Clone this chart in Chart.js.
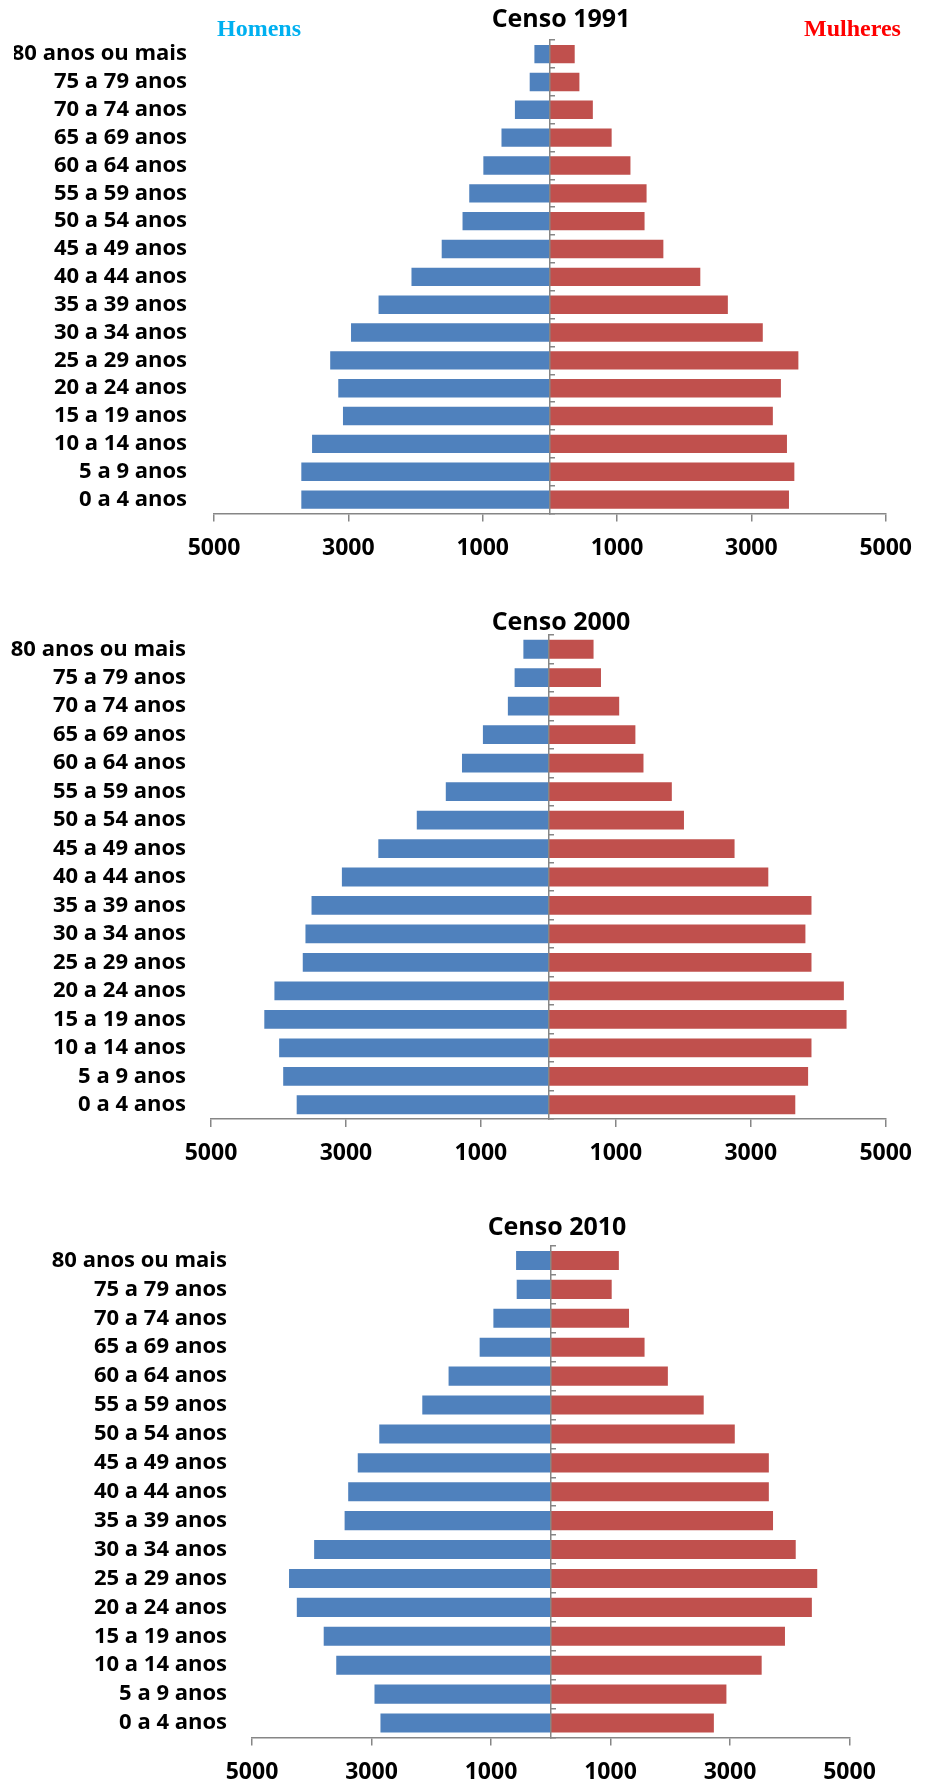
<!DOCTYPE html>
<html lang="pt-BR">
<head>
<meta charset="utf-8">
<title>Pirâmides etárias — Censos 1991, 2000 e 2010</title>
<script src="https://cdn.jsdelivr.net/npm/chart.js@4.4.1/dist/chart.umd.min.js"></script>
<style>
  html, body { margin: 0; padding: 0; background: #fff; }
  #page { position: relative; width: 925px; height: 1783px; overflow: hidden; }
  canvas { position: absolute; left: 0; }
  .title { position: absolute; transform: translate(-50%, -50%); font: bold 25px "Open Sans", sans-serif; color: #000; white-space: nowrap; }
  .sex { position: absolute; transform: translateY(-50%); font: bold 24px "Liberation Serif", serif; white-space: nowrap; }
</style>
</head>
<body>
<div id="page">
  <canvas id="c1991" width="925" height="580" style="top:0px"></canvas>
  <canvas id="c2000" width="925" height="590" style="top:590px"></canvas>
  <canvas id="c2010" width="925" height="583" style="top:1200px"></canvas>

  <div class="title" style="left:561px; top:17px">Censo 1991</div>
  <div class="sex" style="left:217px; top:28px; color:#00B0F0">Homens</div>
  <div class="sex" style="left:804px; top:28px; color:#FF0000">Mulheres</div>
  <div class="title" style="left:561px; top:620px">Censo 2000</div>
  <div class="title" style="left:557px; top:1225px">Censo 2010</div>
</div>

<script>
// Faixas etárias, de cima para baixo
const ageGroups = [
  '80 anos ou mais', '75 a 79 anos', '70 a 74 anos', '65 a 69 anos',
  '60 a 64 anos', '55 a 59 anos', '50 a 54 anos', '45 a 49 anos',
  '40 a 44 anos', '35 a 39 anos', '30 a 34 anos', '25 a 29 anos',
  '20 a 24 anos', '15 a 19 anos', '10 a 14 anos', '5 a 9 anos', '0 a 4 anos'
];

// População por sexo em cada censo (mesma ordem das faixas)
const men1991   = [230, 300, 520, 720, 990, 1200, 1300, 1610, 2060, 2550, 2960, 3270, 3150, 3080, 3540, 3700, 3700];
const women1991 = [370, 440, 640, 920, 1200, 1440, 1410, 1690, 2240, 2650, 3170, 3700, 3440, 3320, 3530, 3640, 3560];

const men2000   = [370, 500, 600, 970, 1280, 1520, 1950, 2520, 3060, 3510, 3600, 3640, 4060, 4210, 3990, 3930, 3730];
const women2000 = [670, 780, 1050, 1290, 1410, 1830, 2010, 2760, 3260, 3900, 3810, 3900, 4380, 4420, 3900, 3850, 3660];

const men2010   = [580, 570, 960, 1190, 1710, 2150, 2870, 3230, 3390, 3450, 3960, 4380, 4250, 3800, 3590, 2950, 2850];
const women2010 = [1140, 1020, 1310, 1570, 1960, 2560, 3080, 3650, 3650, 3720, 4100, 4460, 4370, 3920, 3530, 2940, 2730];

// Marcas do eixo horizontal (valores absolutos nos rótulos)
const xTickValues = [-5000, -3000, -1000, 1000, 3000, 5000];
const xMin = -5000;
const xMax = 5000;

const AXIS_GREY = '#868686';
const LABEL_AXIS_WIDTH = 200;
const X_AXIS_HEIGHT = 45;

function buildPyramid(canvasId, men, women, box) {
  const canvas = document.getElementById(canvasId);
  return new Chart(canvas, {
    type: 'bar',
    data: {
      labels: ageGroups,
      datasets: [
        {
          label: 'Homens',
          data: men.map(v => -v),
          backgroundColor: '#4F81BD',
          barPercentage: 0.66,
          categoryPercentage: 1,
          yAxisID: 'y'
        },
        {
          label: 'Mulheres',
          data: women,
          backgroundColor: '#C0504D',
          barPercentage: 0.66,
          categoryPercentage: 1,
          yAxisID: 'y'
        }
      ]
    },
    options: {
      indexAxis: 'y',
      responsive: false,
      animation: false,
      events: [],
      layout: {
        padding: {
          left: box.left - LABEL_AXIS_WIDTH,
          right: canvas.width - box.right,
          top: box.top,
          bottom: canvas.height - X_AXIS_HEIGHT - box.bottom
        }
      },
      plugins: {
        legend: { display: false },
        tooltip: { enabled: false },
        title: { display: false }
      },
      scales: {
        x: {
          type: 'linear',
          position: 'bottom',
          min: xMin,
          max: xMax,
          stacked: true,
          afterBuildTicks: s => { s.ticks = xTickValues.map(v => ({ value: v })); },
          afterFit: s => { s.height = X_AXIS_HEIGHT; },
          ticks: {
            callback: v => String(Math.abs(v)),
            font: { family: 'Open Sans', weight: 'bold', size: 23 },
            color: '#000',
            padding: 13,
            maxRotation: 0,
            autoSkip: false
          },
          grid: { drawOnChartArea: false, drawTicks: true, tickLength: 8, color: AXIS_GREY, lineWidth: 1.5 },
          border: { display: true, color: AXIS_GREY, width: 1.5 }
        },
        y: {
          type: 'category',
          position: 'left',
          stacked: true,
          afterFit: s => { s.width = LABEL_AXIS_WIDTH; },
          ticks: {
            font: { family: 'Open Sans', weight: 'bold', size: 22 },
            color: '#000',
            padding: box.labelGap,
            autoSkip: false
          },
          grid: { display: false, drawTicks: false },
          border: { display: false }
        },
        yc: {
          type: 'category',
          axis: 'y',
          position: { x: 0 },
          offset: true,
          ticks: { display: false },
          grid: { offset: true, drawOnChartArea: false, drawTicks: true, tickLength: -6, color: AXIS_GREY, lineWidth: 1.5, z: 1 },
          border: { display: true, color: AXIS_GREY, width: 1.5, z: 1 }
        }
      }
    }
  });
}

function drawAll() {
  buildPyramid('c1991', men1991, women1991, { left: 214, right: 891.5, top: 39.5, bottom: 513.5, labelGap: 27 });
  buildPyramid('c2000', men2000, women2000, { left: 211, right: 892.7, top: 45, bottom: 529, labelGap: 25 });
  buildPyramid('c2010', men2010, women2010, { left: 252, right: 849.5, top: 46, bottom: 537.5, labelGap: 25 });
}

const fontReady = document.fonts && document.fonts.load
  ? Promise.all([
      document.fonts.load('bold 22px "Open Sans"'),
      document.fonts.load('bold 24px "Liberation Serif"')
    ]).catch(() => {})
  : Promise.resolve();
fontReady.then(drawAll);
</script>
</body>
</html>
